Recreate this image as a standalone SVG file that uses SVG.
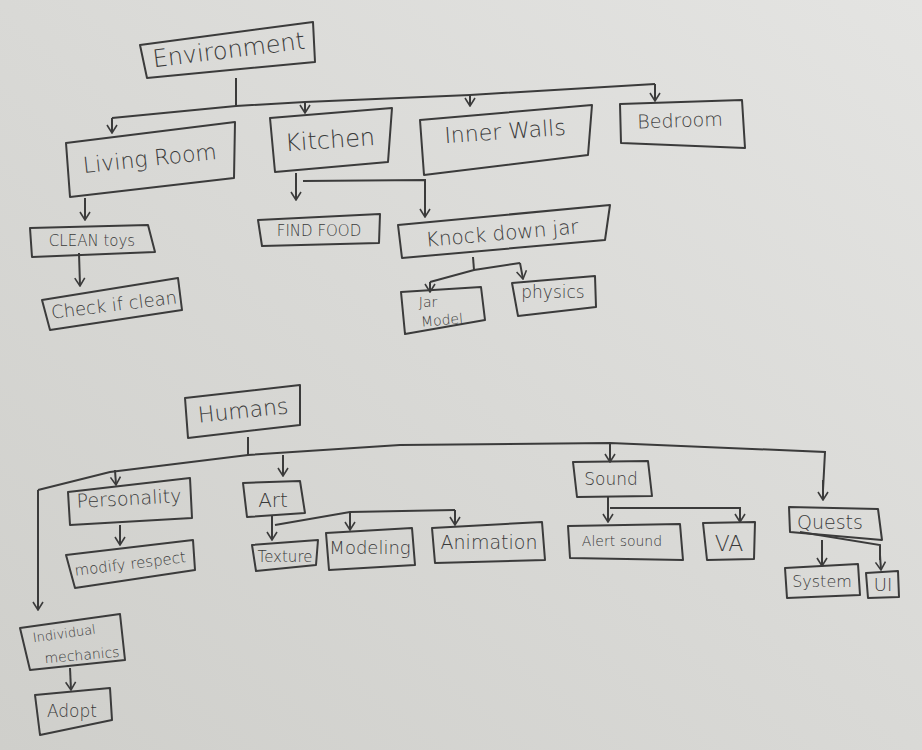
<svg xmlns="http://www.w3.org/2000/svg" width="922" height="750" viewBox="0 0 922 750">
<defs>
<linearGradient id="paper" x1="0" y1="1" x2="1" y2="0">
<stop offset="0" stop-color="#cfcfcb"/>
<stop offset="0.5" stop-color="#d9d9d6"/>
<stop offset="1" stop-color="#e4e4e2"/>
</linearGradient>
<marker id="ah" viewBox="0 0 12 12" refX="11" refY="6" markerWidth="12" markerHeight="12" markerUnits="userSpaceOnUse" orient="auto">
<path d="M3,1 L11,6 L3,11" fill="none" stroke="#3b3b3b" stroke-width="1.6"/>
</marker>
</defs>
<style>
.b{fill:none;stroke:#3b3b3b;stroke-width:2;stroke-linejoin:round}
.c{fill:none;stroke:#3b3b3b;stroke-width:2}
.a{marker-end:url(#ah)}
text{font-family:"DejaVu Sans","Liberation Sans",sans-serif;fill:#3a3a3a;font-weight:300;text-anchor:middle}
</style>
<rect width="922" height="750" fill="url(#paper)"/>

<g id="connectors">
<path class="c" d="M236,78 L236,106"/>
<path class="c" d="M112,118 L236,106 L305,102 L470,95 L655,84"/>
<path class="c a" d="M112,118 L112,133"/>
<path class="c a" d="M305,102 L305,113"/>
<path class="c a" d="M470,95 L470,106"/>
<path class="c a" d="M655,84 L655,101"/>
<path class="c a" d="M85,198 L85,220"/>
<path class="c a" d="M79,253 L80,286"/>
<path class="c a" d="M296,173 L296,200"/>
<path class="c" d="M303,181 L425,180 L425,210"/>
<path class="c a" d="M425,200 L425,217"/>
<path class="c" d="M473,257 L474,270"/>
<path class="c" d="M430,282 L474,270 L520,263"/>
<path class="c a" d="M430,282 L430,292"/>
<path class="c a" d="M520,263 L523,279"/>
<path class="c" d="M248,437 L248,455"/>
<path class="c" d="M38,490 L110,472 L248,455 L400,445 L610,443 L825,452 L823,490"/>
<path class="c a" d="M823,480 L823,500"/>
<path class="c a" d="M38,490 L38,610"/>
<path class="c a" d="M115,470 L116,485"/>
<path class="c a" d="M283,455 L283,476"/>
<path class="c a" d="M610,443 L610,462"/>
<path class="c a" d="M120,525 L120,545"/>
<path class="c a" d="M70,668 L71,690"/>
<path class="c a" d="M272,515 L272,540"/>
<path class="c" d="M275,525 L350,512 L455,510"/>
<path class="c a" d="M350,512 L350,530"/>
<path class="c a" d="M455,510 L455,525"/>
<path class="c a" d="M608,497 L608,522"/>
<path class="c" d="M610,508 L740,508 L740,515"/>
<path class="c a" d="M740,510 L740,522"/>
<path class="c a" d="M822,540 L822,566"/>
<path class="c" d="M800,532 L880,545 L880,560"/>
<path class="c a" d="M880,555 L881,570"/>
</g>

<g id="environment"><path class="b" d="M140,45 L313,22 L315,62 L147,78 Z"/><text x="229" y="58" font-size="24" transform="rotate(-7 229 52)">Environment</text></g>
<g id="living-room"><path class="b" d="M66,143 L235,122 L234,178 L70,197 Z"/><text x="150" y="166" font-size="22" transform="rotate(-6 150 160)">Living Room</text></g>
<g id="kitchen"><path class="b" d="M270,118 L392,108 L388,162 L275,172 Z"/><text x="330" y="148" font-size="24" transform="rotate(-4 330 140)">Kitchen</text></g>
<g id="inner-walls"><path class="b" d="M420,120 L592,105 L588,155 L424,175 Z"/><text x="505" y="139" font-size="22" transform="rotate(-4 505 132)">Inner Walls</text></g>
<g id="bedroom"><path class="b" d="M620,104 L742,100 L745,148 L621,143 Z"/><text x="680" y="127" font-size="19" transform="rotate(-2 680 120)">Bedroom</text></g>
<g id="clean-toys"><path class="b" d="M30,228 L148,225 L155,252 L32,257 Z"/><text x="92" y="246" font-size="15">CLEAN toys</text></g>
<g id="check-if-clean"><path class="b" d="M42,300 L178,278 L182,310 L50,330 Z"/><text x="114" y="311" font-size="18" transform="rotate(-7 114 305)">Check if clean</text></g>
<g id="find-food"><path class="b" d="M258,220 L380,214 L379,243 L262,246 Z"/><text x="319" y="236" font-size="15">FIND FOOD</text></g>
<g id="knock-down-jar"><path class="b" d="M398,225 L610,205 L605,240 L402,258 Z"/><text x="502" y="240" font-size="20" transform="rotate(-5 502 232)">Knock down jar</text></g>
<g id="jar-model"><path class="b" d="M401,292 L481,287 L485,320 L405,334 Z"/><text x="428" y="307" font-size="14">Jar</text><text x="442" y="325" font-size="14" transform="rotate(-5 442 321)">Model</text></g>
<g id="physics"><path class="b" d="M512,283 L595,276 L596,307 L518,316 Z"/><text x="553" y="298" font-size="17">physics</text></g>
<g id="humans"><path class="b" d="M185,398 L300,385 L300,425 L188,438 Z"/><text x="243" y="418" font-size="22" transform="rotate(-6 243 410)">Humans</text></g>
<g id="personality"><path class="b" d="M68,492 L190,478 L192,518 L70,525 Z"/><text x="129" y="505" font-size="19" transform="rotate(-3 129 498)">Personality</text></g>
<g id="modify-respect"><path class="b" d="M66,555 L193,540 L195,570 L75,588 Z"/><text x="130" y="569" font-size="15" transform="rotate(-7 130 563)">modify respect</text></g>
<g id="individual-mechanics"><path class="b" d="M20,628 L120,614 L125,660 L30,670 Z"/><text x="64" y="638" font-size="13" transform="rotate(-8 64 632)">Individual</text><text x="82" y="660" font-size="14" transform="rotate(-5 82 655)">mechanics</text></g>
<g id="adopt"><path class="b" d="M35,695 L110,688 L112,720 L40,735 Z"/><text x="72" y="717" font-size="17">Adopt</text></g>
<g id="art"><path class="b" d="M243,483 L300,481 L305,513 L247,517 Z"/><text x="273" y="507" font-size="20">Art</text></g>
<g id="texture"><path class="b" d="M252,545 L318,540 L316,565 L256,571 Z"/><text x="285" y="562" font-size="15">Texture</text></g>
<g id="modeling"><path class="b" d="M326,533 L412,528 L415,565 L329,570 Z"/><text x="370" y="554" font-size="18">Modeling</text></g>
<g id="animation"><path class="b" d="M432,528 L542,522 L545,560 L435,563 Z"/><text x="489" y="549" font-size="19">Animation</text></g>
<g id="sound"><path class="b" d="M573,462 L648,461 L652,496 L577,497 Z"/><text x="611" y="485" font-size="17">Sound</text></g>
<g id="alert-sound"><path class="b" d="M568,526 L680,524 L683,560 L570,558 Z"/><text x="622" y="546" font-size="14">Alert sound</text></g>
<g id="va"><path class="b" d="M703,523 L755,522 L754,559 L707,560 Z"/><text x="729" y="551" font-size="22">VA</text></g>
<g id="quests"><path class="b" d="M789,507 L878,509 L882,540 L790,532 Z"/><text x="830" y="529" font-size="19">Quests</text></g>
<g id="system"><path class="b" d="M785,568 L858,564 L860,595 L787,598 Z"/><text x="822" y="587" font-size="16">System</text></g>
<g id="ui"><path class="b" d="M866,573 L898,571 L899,597 L868,598 Z"/><text x="883" y="591" font-size="18">UI</text></g>
</svg>
